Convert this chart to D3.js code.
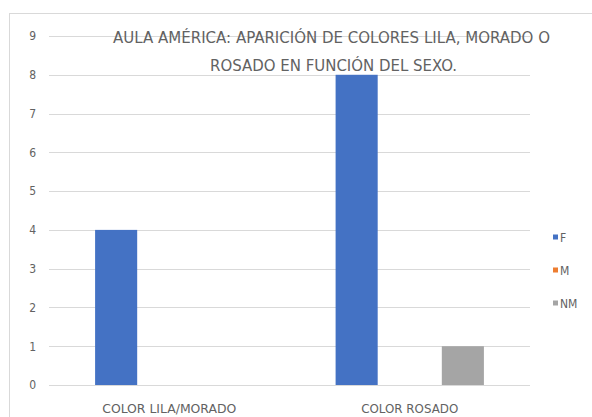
<!DOCTYPE html>
<html><head><meta charset="utf-8">
<script src="https://cdn.jsdelivr.net/npm/d3@7"></script>
<style>body{margin:0;background:#fff;}svg{display:block;}</style>
</head><body>
<svg id="c" width="592" height="417"></svg>
<script>
const categories = ["COLOR LILA/MORADO", "COLOR ROSADO"];
const seriesNames = ["F", "M", "NM"];
const seriesColors = ["#4472C4", "#ED7D31", "#A5A5A5"];
const valuesF = [4, 8];
const valuesM = [0, 0];
const valuesNM = [0, 1];
const yTicks = [0,1,2,3,4,5,6,7,8,9];
const titleLines = ["AULA AMÉRICA: APARICIÓN DE COLORES LILA, MORADO O", "ROSADO EN FUNCIÓN DEL SEXO."];

const seriesValues = [valuesF, valuesM, valuesNM];
const svg = d3.select("#c");
const font = "'Liberation Sans Narrow','DejaVu Sans Condensed','Liberation Sans',sans-serif";
const txt = "#626262";

svg.append("rect").attr("x",9.5).attr("y",13.5).attr("width",600).attr("height",420)
  .attr("fill","#fff").attr("stroke","#d9d9d9");

const plot = {l:49, r:530, t:36, b:385};
const x0 = d3.scaleBand().domain(categories).range([plot.l, plot.r]);
const x1 = d3.scaleBand().domain(seriesNames).range([0, x0.bandwidth()])
  .paddingInner(0.2075).paddingOuter(0.868);
const y = d3.scaleLinear().domain([0,9]).range([plot.b, plot.t]);

// gridlines
svg.append("g").selectAll("line").data(yTicks).join("line")
  .attr("x1",plot.l).attr("x2",plot.r)
  .attr("y1",d=>Math.round(y(d))+0.5).attr("y2",d=>Math.round(y(d))+0.5)
  .attr("stroke","#d9d9d9").attr("stroke-width",1);

// y tick labels
const yAxis = d3.axisLeft(y).tickValues(yTicks).tickSize(0).tickPadding(0);
const ga = svg.append("g").attr("transform",`translate(${plot.l-13},0)`).call(yAxis);
ga.select(".domain").remove();
ga.selectAll("text").attr("fill",txt).attr("font-size",12).attr("font-family",font);

// title
svg.append("text").attr("x",113).attr("y",43).attr("textLength",437).attr("lengthAdjust","spacingAndGlyphs")
  .attr("font-size",15).attr("font-family",font).attr("fill",txt).text(titleLines[0]);
svg.append("text").attr("x",210).attr("y",71).attr("textLength",247).attr("lengthAdjust","spacingAndGlyphs")
  .attr("font-size",15).attr("font-family",font).attr("fill",txt).text(titleLines[1]);

// bars
const data = [];
categories.forEach((c,ci)=>seriesNames.forEach((s,si)=>data.push({c, s, v: seriesValues[si][ci], col: seriesColors[si]})));
svg.append("g").selectAll("rect").data(data.filter(d=>d.v>0)).join("rect")
  .attr("x",d=>x0(d.c)+x1(d.s)).attr("width",x1.bandwidth())
  .attr("y",d=>y(d.v)).attr("height",d=>y(0)-y(d.v)).attr("fill",d=>d.col);

// category labels
const catWidths = [134, 97];
svg.append("g").selectAll("text").data(categories).join("text")
  .attr("x",(d,i)=>x0(d)+x0.bandwidth()/2 - catWidths[i]/2).attr("y",413)
  .attr("textLength",(d,i)=>catWidths[i]).attr("lengthAdjust","spacingAndGlyphs")
  .attr("font-size",13).attr("font-family",font).attr("fill",txt).text(d=>d);

// legend
const legY = [237, 270, 303];
const lg = svg.append("g").selectAll("g").data(seriesNames).join("g")
  .attr("transform",(d,i)=>`translate(553,${legY[i]})`);
lg.append("rect").attr("x",0).attr("y",-2.5).attr("width",5).attr("height",5).attr("fill",(d,i)=>seriesColors[i]);
lg.append("text").attr("x",7).attr("y",4.5).attr("font-size",12).attr("font-family",font).attr("fill",txt).text(d=>d);
</script>
</body></html>
